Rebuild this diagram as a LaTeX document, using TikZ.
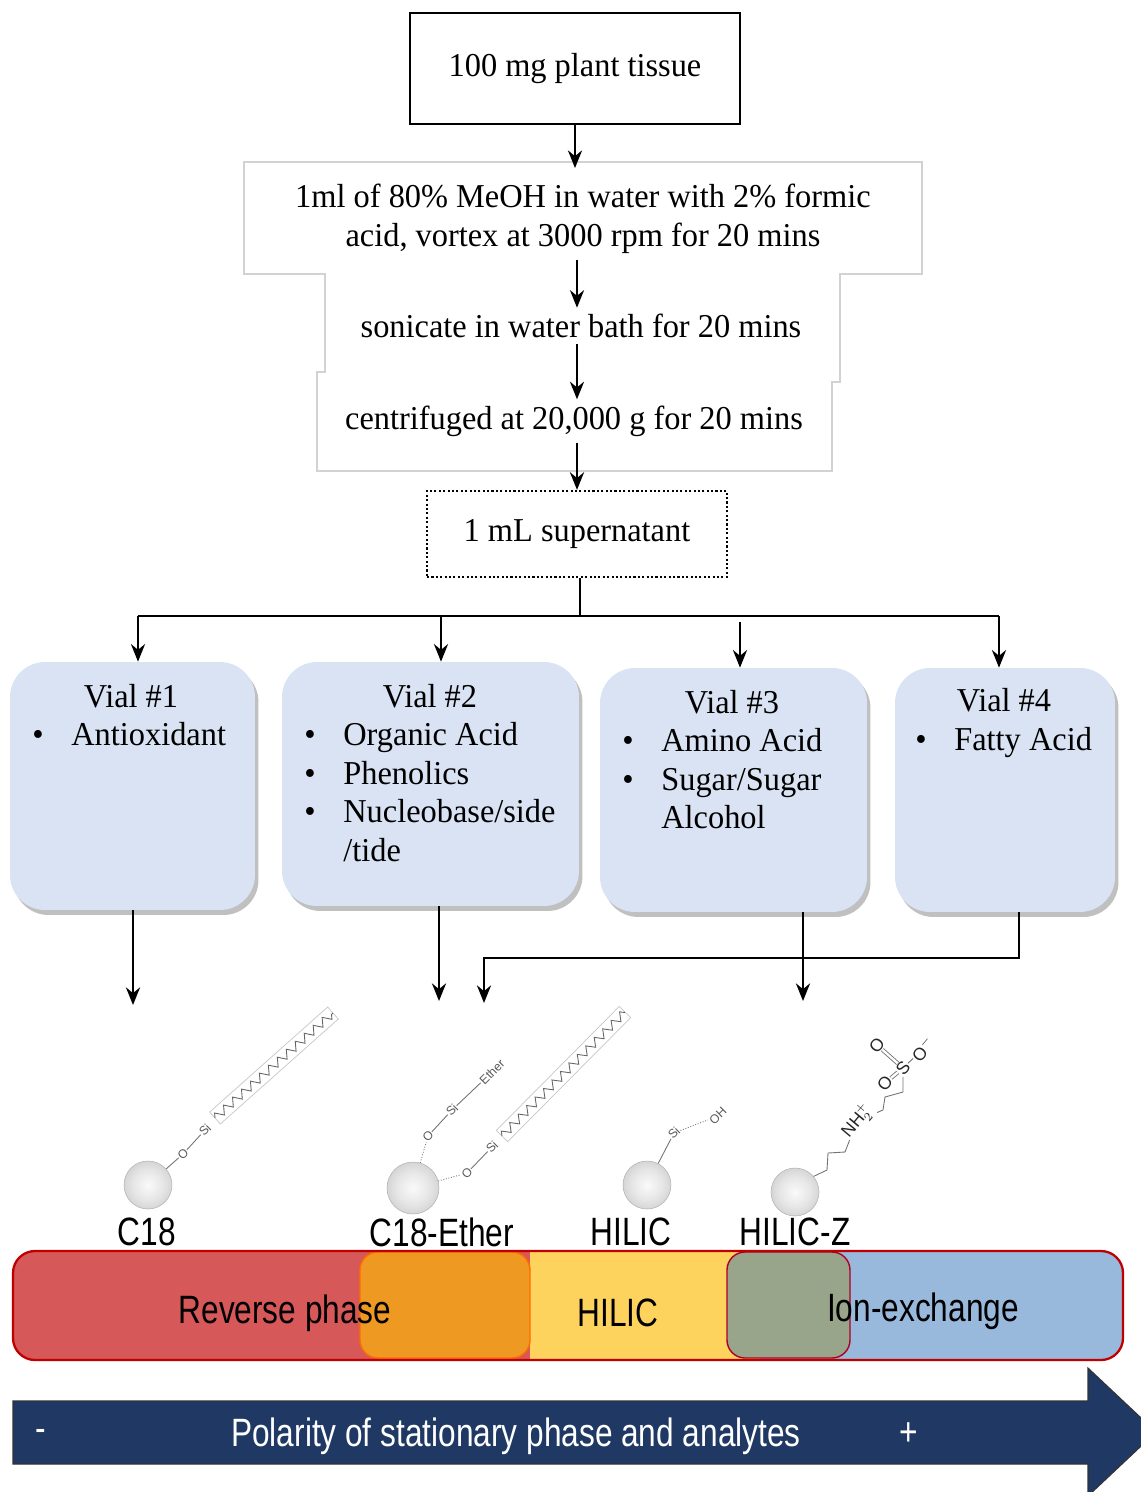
\documentclass[tikz,border=0pt]{standalone}
\usepackage{fontspec}
\setmainfont[FakeStretch=0.97]{Liberation Serif}
\setsansfont{Liberation Sans}
\newfontfamily\narrowsans[FakeStretch=0.8]{Liberation Sans}
\usetikzlibrary{arrows.meta,positioning,shadows,calc,decorations.pathmorphing}

\definecolor{vialblue}{RGB}{218,227,243}
\definecolor{rpred}{RGB}{214,88,88}
\definecolor{bandred}{RGB}{192,0,0}
\definecolor{rporange}{RGB}{238,153,34}
\definecolor{hilicyellow}{RGB}{253,211,94}
\definecolor{iexblue}{RGB}{153,185,220}
\definecolor{zolive}{RGB}{152,165,138}
\definecolor{navy}{RGB}{31,56,100}

\pgfdeclareradialshading{bead}{\pgfpoint{0bp}{0bp}}{color(0bp)=(gray!4); color(16bp)=(gray!20); color(36bp)=(gray!48); color(46bp)=(gray!70); color(50bp)=(gray!85)}

\newcommand\bl{\makebox[0.78cm][l]{\textbullet}}

\begin{document}
\begin{tikzpicture}[x=0.02cm, y=-0.02cm, >={Stealth[length=10pt, width=8pt]},
    serif/.style={font=\fontsize{19}{22}\selectfont},
    lbl/.style={font=\narrowsans\fontsize{22.5}{26}\selectfont, inner sep=0pt},
    flow/.style={->, line width=1.4pt},
    wire/.style={line width=1.4pt},
    tissue/.style={draw, line width=1.4pt, serif, minimum width=6.6cm, minimum height=2.22cm},
    stepbox/.style={serif, align=center, inner sep=0.12cm},
    super/.style={draw, serif, line width=1.3pt, dash pattern=on 1.2pt off 1.3pt, minimum width=6cm, minimum height=1.72cm},
    vial/.style={fill=vialblue, rounded corners=0.7cm, minimum height=4.88cm, drop shadow={shadow xshift=0.07cm, shadow yshift=-0.1cm, fill=black!45, opacity=0.55}},
    vtitle/.style={serif, anchor=base, inner sep=0pt},
    vlist/.style={serif, align=left, anchor=north west, inner sep=0pt},
    bead/.style={circle, minimum size=0.96cm, inner sep=0pt, shade, shading=bead, draw=gray!60, line width=0.3pt},
    atom/.style={font=\sffamily\fontsize{7}{7}\selectfont, text=black!65, inner sep=0.3pt, rotate=45},
    zatom/.style={font=\sffamily\fontsize{10}{10}\selectfont, text=black!85, inner sep=0.3pt, rotate=50},
    bond/.style={black!55, line width=0.5pt},
    dbond/.style={bond, densely dotted}]

    \useasboundingbox (0,0) rectangle (1141,1492);

    \draw[gray!35, line width=0.6pt] (244,162) -- (922,162) -- (922,274) -- (840,274) -- (840,382) -- (832,382) -- (832,471) -- (317,471) -- (317,372) -- (325,372) -- (325,274) -- (244,274) -- cycle;

    \node[tissue] (tissue) at (575,68.5) {100 mg plant tissue};
    \node[stepbox] (s1) at (583,219) {1ml of 80\% MeOH in water with 2\% formic\\acid, vortex at 3000 rpm for 20 mins};
    \node[stepbox] (s2) at (581,326) {sonicate in water bath for 20 mins};
    \node[stepbox] (s3) at (574,421) {centrifuged at 20,000 g for 20 mins};
    \node[super] (sup) at (577,534) {1 mL supernatant};

    \draw[flow, shorten >=0.2cm] (tissue) -- (tissue |- s1.north);
    \draw[flow] (s1.south -| sup) -- (s2.north -| sup);
    \draw[flow] (s2.south -| sup) -- (s3.north -| sup);
    \draw[flow] (s3.south -| sup) -- (sup.north);

    \node[vial, minimum width=4.9cm, minimum height=4.96cm] (v1) at (132.5,786) {};
    \node[vial, minimum width=5.94cm] (v2) at (430.5,784) {};
    \node[vial, minimum width=5.34cm] (v3) at (733.5,790) {};
    \node[vial, minimum width=4.4cm] (v4) at (1005,790) {};

    \node[vtitle] (v1t) at (131,707) {Vial \#1};
    \node[vtitle] (v2t) at (430,707) {Vial \#2};
    \node[vtitle] (v3t) at (732,713) {Vial \#3};
    \node[vtitle] (v4t) at (1004,711) {Vial \#4};
    \node[vlist] (v1l) at (32,722) {\bl Antioxidant};
    \node[vlist] (v2l) at (304,722) {\bl Organic Acid\\ \bl Phenolics\\ \bl Nucleobase/side\\ \hspace*{0.78cm}/tide};
    \node[vlist] (v3l) at (622,728) {\bl Amino Acid\\ \bl Sugar/Sugar\\ \hspace*{0.78cm}Alcohol};
    \node[vlist] (v4l) at (915,727) {\bl Fatty Acid};

    \coordinate (bus) at (580,616);
    \foreach \n/\x in {q1/138, q2/441, q4/999} \coordinate (\n) at (\x,616);
    \coordinate (q3) at (740,622);
    \draw[wire] (sup.south -| bus) -- (bus);
    \draw[wire] (q1) -- (q4);
    \foreach \i in {1,2,3,4} \draw[flow] (q\i) -- (v\i.north -| q\i);

    \coordinate (p1) at (133,1005); \coordinate (p2) at (439,1001); \coordinate (p3) at (803,1001); \coordinate (p4) at (484,1003); \coordinate (elbow) at (1019,958);
    \draw[flow] (v1.south -| p1) -- (p1);
    \draw[flow] (v2.south -| p2) -- (p2);
    \draw[flow] (v3.south -| p3) -- (p3);
    \draw[flow] (v4.south -| elbow) -- (elbow) -| (p4);

    \node[bead] (b1) at (148,1185) {};
    \node[atom] (o1) at (183,1154) {O};
    \node[atom] (si1) at (205,1130) {Si};
    \draw[bond] (b1) -- (o1) -- (si1);
    \coordinate (h1) at (215,1118); \coordinate (t1) at (333,1013);

    \node[bead, minimum size=1.04cm] (b2) at (413,1188) {};
    \node[atom] (o2) at (428,1136) {O};
    \node[atom] (si2) at (452,1110) {Si};
    \node[atom] (eth) at (492,1072) {Ether};
    \draw[dbond] (b2) -- (o2); \draw[bond] (o2) -- (si2) -- (eth);
    \node[atom] (o3) at (467,1173) {O};
    \node[atom] (si3) at (492,1147) {Si};
    \draw[dbond] (b2) -- (o3); \draw[bond] (o3) -- (si3);
    \coordinate (h2) at (502,1136); \coordinate (t2) at (625,1012);

    \foreach \h/\t in {h1/t1, h2/t2} {
        \draw[gray!45, line width=0.4pt] ($(\h)!0.16cm!90:(\t)$) -- ($(\t)!0.16cm!-90:(\h)$) -- ($(\t)!0.16cm!90:(\h)$) -- ($(\h)!0.16cm!-90:(\t)$) -- cycle;
        \draw[black!60, line width=0.5pt, decorate, decoration={zigzag, segment length=0.24cm, amplitude=0.08cm}] (\h) -- (\t);
    }

    \node[bead] (b3) at (647,1185) {};
    \node[atom] (si4) at (674,1133) {Si};
    \node[atom] (oh) at (718,1116) {OH};
    \draw[bond] (b3) -- (si4); \draw[dbond] (si4) -- (oh);

    \node[bead] (b4) at (795,1192) {};
    \node[zatom] (nh) at (857,1121) {NH$_2^+$};
    \node[zatom] (s) at (903,1068) {S};
    \node[zatom] (o4) at (877,1045) {O};
    \node[zatom] (o5) at (885,1083) {O};
    \node[zatom] (o6) at (923,1049) {O$^-$};
    \draw[bond] (b4.40) -- (827,1170) -- (828,1153) -- (845,1152) -- (nh);
    \draw[bond] (nh) -- (883,1110) -- (885,1097) -- (903,1092) -- (s);
    \draw[bond, double, double distance=1.3pt] (s) -- (o4);
    \draw[bond, double, double distance=1.3pt] (s) -- (o5);
    \draw[bond] (s) -- (o6);

    \node[lbl] (c18) at (147,1232) {C18};
    \node[lbl] (ether) at (442,1232) {C18-Ether};
    \node[lbl] (hilic) at (631,1232) {HILIC};
    \node[lbl] (hilicz) at (795,1232) {HILIC-Z};

    \begin{scope}
        \clip[rounded corners=0.44cm] (13,1251) rectangle (1123,1360);
        \fill[rpred] (13,1251) rectangle (540,1360);
        \fill[hilicyellow] (530,1251) rectangle (760,1360);
        \fill[iexblue] (760,1251) rectangle (1123,1360);
    \end{scope}
    \draw[fill=rporange, draw=orange!85!red, line width=0.8pt, rounded corners=0.36cm] (360,1252) rectangle (530,1358);
    \draw[fill=zolive, draw=bandred!70!violet, line width=0.8pt, rounded corners=0.36cm] (727,1252) rectangle (850,1358);
    \draw[bandred, line width=1.3pt, rounded corners=0.44cm] (13,1251) rectangle (1123,1360);
    \node[lbl] (rp) at (285,1313) {Reverse phase};
    \node[lbl] (hil) at (618,1313) {HILIC};
    \node[lbl] (iex) at (923,1311) {Ion-exchange};

    \draw[fill=navy, draw=black!80, line width=0.6pt] (13,1401) -- (1088,1401) -- (1088,1368) -- (1156,1432) -- (1088,1496) -- (1088,1464) -- (13,1464) -- cycle;
    \node[lbl, text=white] (minus) at (41,1435) {-};
    \node[lbl, text=white] (pol) at (516,1436) {Polarity of stationary phase and analytes};
    \node[lbl, text=white] (plus) at (909,1434) {+};
\end{tikzpicture}
\end{document}
